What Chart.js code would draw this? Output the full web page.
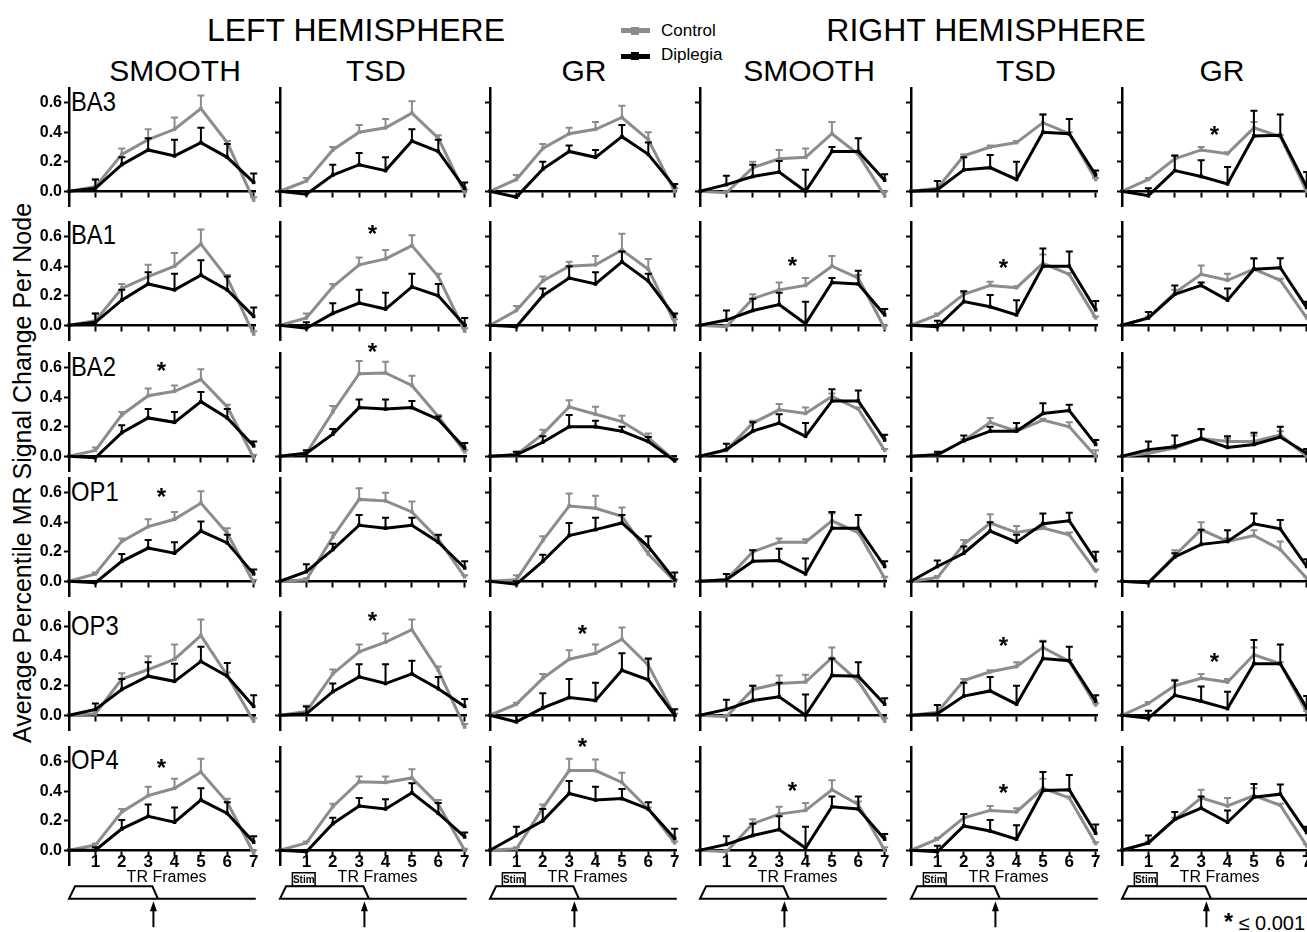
<!DOCTYPE html>
<html>
<head>
<meta charset="utf-8">
<script src="https://cdn.jsdelivr.net/npm/chart.js@4.4.1/dist/chart.umd.min.js"></script>
<style>
  body { margin: 0; background: #fff; width: 1307px; height: 932px; overflow: hidden; position: relative;
         font-family: "Liberation Sans", Arial, sans-serif; color: #000; }
  .t { position: absolute; white-space: nowrap; transform: translate(-50%, -50%); line-height: 1; }
  .l { position: absolute; white-space: nowrap; line-height: 1; transform-origin: left center; }
  .bar { position: absolute; }
  canvas { position: absolute; }
</style>
</head>
<body>
<div class="t" style="left:356px;top:30px;font-size:32px">LEFT HEMISPHERE</div>
<div class="t" style="left:986px;top:30px;font-size:32px">RIGHT HEMISPHERE</div>
<div id="titles"></div>
<div class="t" style="left:22px;top:473px;font-size:25px;transform:translate(-50%,-50%) rotate(-90deg)">Average Percentile MR Signal Change Per Node</div>

<!-- legend -->
<div class="bar" style="left:621px;top:28px;width:29px;height:5px;background:#8c8c8c"></div>
<div class="bar" style="left:631px;top:26.5px;width:8px;height:8px;background:#8c8c8c"></div>
<div class="l" style="left:661px;top:22px;font-size:17px">Control</div>
<div class="bar" style="left:621px;top:53.5px;width:29px;height:5px;background:#000"></div>
<div class="bar" style="left:631px;top:52px;width:8px;height:8px;background:#000"></div>
<div class="l" style="left:661px;top:46px;font-size:17px">Diplegia</div>

<div class="l" style="left:1224px;top:911px;font-size:20px"><b style="font-size:23px">*</b> &le; 0.001</div>

<script>
// ---------------- data ----------------
const frames = [0, 1, 2, 3, 4, 5, 6, 7];
const xTicks = [1, 2, 3, 4, 5, 6, 7];
const yTicks = [0, 0.2, 0.4, 0.6];
const conditions = ['SMOOTH', 'TSD', 'GR', 'SMOOTH', 'TSD', 'GR'];
const regions = ['BA3', 'BA1', 'BA2', 'OP1', 'OP3', 'OP4'];

// one row per column: L SMOOTH, L TSD, L GR, R SMOOTH, R TSD, R GR
const controlBA3 = [
  [0, 0.03, 0.25, 0.35, 0.42, 0.56, 0.33, -0.06],
  [0, 0.07, 0.28, 0.40, 0.43, 0.53, 0.36, -0.01],
  [0, 0.08, 0.29, 0.39, 0.42, 0.50, 0.35, 0.00],
  [0, -0.01, 0.16, 0.22, 0.23, 0.39, 0.25, -0.03],
  [0, 0.02, 0.24, 0.30, 0.33, 0.465, 0.39, 0.08],
  [0, 0.08, 0.22, 0.28, 0.255, 0.43, 0.37, 0.00]
];
const controlErrBA3 = [
  [0, 0.05, 0.04, 0.07, 0.08, 0.09, 0.01, 0.02],
  [0, 0.02, 0.02, 0.05, 0.06, 0.08, 0.02, 0.02],
  [0, 0.03, 0.03, 0.04, 0.05, 0.08, 0.05, 0.02],
  [0, 0.01, 0.04, 0.06, 0.06, 0.08, 0.02, 0.03],
  [0, 0.05, 0.01, 0.01, 0.01, 0.055, 0.01, 0.01],
  [0, 0.01, 0.025, 0.02, 0.01, 0.04, 0.01, 0.01]
];
const diplegiaBA3 = [
  [0, 0.02, 0.18, 0.28, 0.24, 0.33, 0.23, 0.06],
  [0, -0.02, 0.11, 0.18, 0.14, 0.34, 0.27, 0.02],
  [0, -0.04, 0.15, 0.27, 0.23, 0.37, 0.25, 0.03],
  [0, 0.045, 0.10, 0.13, 0.00, 0.27, 0.27, 0.075],
  [0, 0.01, 0.145, 0.16, 0.08, 0.40, 0.39, 0.11],
  [0, -0.03, 0.14, 0.10, 0.05, 0.375, 0.38, 0.03]
];
const diplegiaErrBA3 = [
  [0, 0.06, 0.05, 0.08, 0.11, 0.10, 0.09, 0.06],
  [0, 0.02, 0.07, 0.08, 0.09, 0.08, 0.08, 0.04],
  [0, 0.01, 0.05, 0.04, 0.05, 0.08, 0.08, 0.02],
  [0, 0.06, 0.08, 0.075, 0.145, 0.03, 0.09, 0.04],
  [0, 0.06, 0.085, 0.085, 0.12, 0.12, 0.10, 0.03],
  [0, 0.05, 0.10, 0.11, 0.115, 0.17, 0.14, 0.10]
];

const controlBA1 = [
  [0, 0.03, 0.25, 0.33, 0.40, 0.55, 0.32, -0.06],
  [0, 0.05, 0.26, 0.41, 0.45, 0.54, 0.33, -0.04],
  [0, 0.10, 0.30, 0.40, 0.41, 0.51, 0.38, 0.02],
  [0, -0.01, 0.18, 0.24, 0.27, 0.40, 0.32, -0.02],
  [0, 0.07, 0.21, 0.27, 0.255, 0.42, 0.345, 0.05],
  [0, 0.05, 0.22, 0.345, 0.305, 0.38, 0.305, 0.05]
];
const controlErrBA1 = [
  [0, 0.05, 0.03, 0.08, 0.09, 0.10, 0.02, 0.02],
  [0, 0.03, 0.02, 0.05, 0.06, 0.07, 0.02, 0.02],
  [0, 0.03, 0.03, 0.03, 0.06, 0.11, 0.07, 0.02],
  [0, 0.01, 0.03, 0.05, 0.05, 0.07, 0.02, 0.02],
  [0, 0.01, 0.01, 0.025, 0.01, 0.06, 0.01, 0.01],
  [0, 0.01, 0.02, 0.06, 0.045, 0.07, 0.01, 0.02]
];
const diplegiaBA1 = [
  [0, 0.02, 0.17, 0.28, 0.24, 0.34, 0.24, 0.06],
  [0, -0.02, 0.08, 0.15, 0.11, 0.26, 0.20, 0.00],
  [0, -0.01, 0.20, 0.32, 0.28, 0.43, 0.30, 0.06],
  [0, 0.035, 0.10, 0.14, 0.01, 0.29, 0.28, 0.07],
  [0, -0.01, 0.16, 0.125, 0.07, 0.40, 0.40, 0.105],
  [0, 0.05, 0.21, 0.27, 0.17, 0.38, 0.39, 0.12]
];
const diplegiaErrBA1 = [
  [0, 0.06, 0.07, 0.08, 0.11, 0.10, 0.09, 0.06],
  [0, 0.04, 0.07, 0.09, 0.11, 0.09, 0.08, 0.05],
  [0, 0.01, 0.05, 0.08, 0.08, 0.07, 0.05, 0.02],
  [0, 0.065, 0.08, 0.08, 0.15, 0.03, 0.09, 0.04],
  [0, 0.04, 0.07, 0.08, 0.10, 0.12, 0.10, 0.06],
  [0, 0.04, 0.06, 0.02, 0.08, 0.075, 0.065, 0.04]
];

const controlBA2 = [
  [0, 0.04, 0.28, 0.41, 0.44, 0.52, 0.335, -0.01],
  [0, 0.02, 0.30, 0.56, 0.565, 0.48, 0.27, 0.03],
  [0, 0.01, 0.15, 0.335, 0.285, 0.235, 0.125, -0.03],
  [0, 0.04, 0.225, 0.315, 0.29, 0.405, 0.32, 0.04],
  [0, 0.01, 0.105, 0.23, 0.17, 0.245, 0.20, 0.00],
  [0, 0.02, 0.055, 0.12, 0.10, 0.10, 0.145, 0.00]
];
const controlErrBA2 = [
  [0, 0.02, 0.02, 0.05, 0.04, 0.07, 0.015, 0.02],
  [0, 0.01, 0.04, 0.085, 0.075, 0.065, 0.01, 0.01],
  [0, 0.02, 0.03, 0.045, 0.05, 0.04, 0.03, 0.01],
  [0, 0.01, 0.015, 0.04, 0.04, 0.02, 0.01, 0.01],
  [0, 0.01, 0.01, 0.03, 0.02, 0.01, 0.03, 0.04],
  [0, 0.01, 0.02, 0.06, 0.02, 0.04, 0.025, 0.01]
];
const diplegiaBA2 = [
  [0, -0.01, 0.16, 0.26, 0.23, 0.37, 0.26, 0.07],
  [0, 0.02, 0.15, 0.33, 0.32, 0.33, 0.25, 0.055],
  [0, 0.01, 0.095, 0.20, 0.20, 0.17, 0.10, -0.03],
  [0, 0.045, 0.17, 0.225, 0.135, 0.375, 0.375, 0.11],
  [0, 0.01, 0.105, 0.17, 0.17, 0.29, 0.31, 0.08],
  [0, 0.045, 0.065, 0.12, 0.06, 0.08, 0.13, 0.02]
];
const diplegiaErrBA2 = [
  [0, 0.01, 0.05, 0.06, 0.07, 0.065, 0.06, 0.03],
  [0, 0.02, 0.035, 0.055, 0.065, 0.045, 0.02, 0.035],
  [0, 0.02, 0.04, 0.08, 0.04, 0.03, 0.03, 0.01],
  [0, 0.04, 0.06, 0.06, 0.09, 0.08, 0.07, 0.035],
  [0, 0.02, 0.035, 0.03, 0.055, 0.07, 0.04, 0.03],
  [0, 0.055, 0.075, 0.065, 0.075, 0.08, 0.07, 0.03]
];

const controlOP1 = [
  [0, 0.05, 0.27, 0.37, 0.42, 0.53, 0.325, -0.01],
  [0, 0.01, 0.30, 0.555, 0.545, 0.47, 0.285, 0.03],
  [0, 0.01, 0.275, 0.51, 0.495, 0.44, 0.185, 0.00],
  [0, 0.01, 0.20, 0.265, 0.265, 0.41, 0.33, 0.02],
  [0, 0.025, 0.25, 0.395, 0.33, 0.36, 0.315, 0.07],
  [0, -0.01, 0.175, 0.35, 0.27, 0.31, 0.215, 0.02]
];
const controlErrOP1 = [
  [0, 0.01, 0.02, 0.05, 0.05, 0.08, 0.035, 0.02],
  [0, 0.01, 0.03, 0.075, 0.055, 0.07, 0.025, 0.01],
  [0, 0.03, 0.03, 0.085, 0.085, 0.06, 0.02, 0.01],
  [0, 0.04, 0.01, 0.025, 0.02, 0.05, 0.02, 0.01],
  [0, 0.01, 0.03, 0.06, 0.045, 0.01, 0.015, 0.01],
  [0, 0.01, 0.035, 0.05, 0.02, 0.035, 0.055, 0.01]
];
const diplegiaOP1 = [
  [0, -0.01, 0.135, 0.225, 0.19, 0.34, 0.26, 0.05],
  [0, 0.065, 0.215, 0.38, 0.36, 0.38, 0.265, 0.09],
  [0, -0.02, 0.135, 0.31, 0.35, 0.395, 0.235, 0.01],
  [0, 0.01, 0.135, 0.14, 0.05, 0.36, 0.36, 0.10],
  [0, 0.10, 0.19, 0.34, 0.265, 0.39, 0.41, 0.14],
  [0, -0.01, 0.165, 0.25, 0.27, 0.39, 0.355, 0.10]
];
const diplegiaErrOP1 = [
  [0, 0.01, 0.05, 0.055, 0.075, 0.065, 0.055, 0.03],
  [0, 0.05, 0.04, 0.07, 0.07, 0.05, 0.05, 0.045],
  [0, 0.02, 0.045, 0.085, 0.08, 0.055, 0.07, 0.05],
  [0, 0.04, 0.075, 0.08, 0.105, 0.11, 0.09, 0.035],
  [0, 0.04, 0.045, 0.06, 0.05, 0.07, 0.055, 0.06],
  [0, 0.01, 0.025, 0.10, 0.075, 0.07, 0.06, 0.05]
];

const controlOP3 = [
  [0, 0.01, 0.245, 0.31, 0.38, 0.54, 0.27, -0.04],
  [0, 0.025, 0.28, 0.43, 0.495, 0.58, 0.305, -0.08],
  [0, 0.075, 0.25, 0.38, 0.42, 0.515, 0.34, 0.00],
  [0, -0.01, 0.175, 0.215, 0.225, 0.39, 0.23, -0.04],
  [0, 0.02, 0.235, 0.295, 0.33, 0.46, 0.365, 0.07],
  [0, 0.08, 0.20, 0.25, 0.225, 0.41, 0.35, 0.02]
];
const controlErrOP3 = [
  [0, 0.02, 0.04, 0.09, 0.10, 0.11, 0.02, 0.02],
  [0, 0.04, 0.03, 0.05, 0.06, 0.07, 0.025, 0.02],
  [0, 0.01, 0.03, 0.06, 0.06, 0.08, 0.04, 0.01],
  [0, 0.01, 0.025, 0.055, 0.05, 0.07, 0.02, 0.02],
  [0, 0.05, 0.01, 0.01, 0.03, 0.045, 0.01, 0.01],
  [0, 0.01, 0.04, 0.03, 0.02, 0.05, 0.01, 0.01]
];
const diplegiaOP3 = [
  [0, 0.04, 0.175, 0.265, 0.23, 0.365, 0.265, 0.06],
  [0, 0.01, 0.16, 0.26, 0.215, 0.28, 0.18, 0.06],
  [0, -0.045, 0.05, 0.12, 0.10, 0.305, 0.24, 0.00],
  [0, 0.04, 0.10, 0.125, 0.00, 0.27, 0.265, 0.075],
  [0, 0.01, 0.13, 0.165, 0.075, 0.385, 0.37, 0.095],
  [0, -0.02, 0.135, 0.095, 0.045, 0.35, 0.35, 0.05]
];
const diplegiaErrOP3 = [
  [0, 0.04, 0.07, 0.095, 0.12, 0.10, 0.09, 0.075],
  [0, 0.05, 0.055, 0.085, 0.13, 0.09, 0.08, 0.05],
  [0, 0.045, 0.10, 0.125, 0.12, 0.115, 0.145, 0.04],
  [0, 0.065, 0.10, 0.095, 0.14, 0.115, 0.095, 0.04],
  [0, 0.06, 0.09, 0.095, 0.125, 0.115, 0.095, 0.04],
  [0, 0.05, 0.10, 0.10, 0.115, 0.16, 0.13, 0.08]
];

const controlOP4 = [
  [0, 0.035, 0.26, 0.37, 0.42, 0.53, 0.325, -0.02],
  [0, 0.05, 0.295, 0.465, 0.46, 0.49, 0.31, 0.00],
  [0, 0.01, 0.285, 0.54, 0.54, 0.46, 0.28, 0.05],
  [0, -0.01, 0.18, 0.245, 0.27, 0.41, 0.31, 0.00],
  [0, 0.075, 0.22, 0.27, 0.26, 0.42, 0.355, 0.045],
  [0, 0.05, 0.21, 0.355, 0.30, 0.37, 0.305, 0.03]
];
const controlErrOP4 = [
  [0, 0.01, 0.02, 0.06, 0.065, 0.09, 0.025, 0.02],
  [0, 0.01, 0.02, 0.035, 0.04, 0.06, 0.03, 0.01],
  [0, 0.01, 0.025, 0.08, 0.075, 0.065, 0.01, 0.01],
  [0, 0.01, 0.03, 0.05, 0.05, 0.065, 0.02, 0.02],
  [0, 0.01, 0.025, 0.03, 0.025, 0.065, 0.01, 0.01],
  [0, 0.01, 0.01, 0.055, 0.055, 0.05, 0.01, 0.01]
];
const diplegiaOP4 = [
  [0, 0.00, 0.145, 0.23, 0.19, 0.34, 0.25, 0.055],
  [0, -0.01, 0.18, 0.30, 0.28, 0.39, 0.25, 0.09],
  [0, 0.10, 0.20, 0.385, 0.34, 0.35, 0.28, 0.08],
  [0, 0.04, 0.10, 0.14, 0.015, 0.295, 0.28, 0.075],
  [0, -0.01, 0.165, 0.13, 0.075, 0.405, 0.41, 0.115],
  [0, 0.05, 0.21, 0.285, 0.19, 0.36, 0.38, 0.12]
];
const diplegiaErrOP4 = [
  [0, 0.02, 0.06, 0.08, 0.10, 0.08, 0.075, 0.04],
  [0, 0.01, 0.04, 0.055, 0.065, 0.065, 0.07, 0.03],
  [0, 0.06, 0.08, 0.085, 0.09, 0.065, 0.045, 0.065],
  [0, 0.055, 0.08, 0.09, 0.145, 0.07, 0.085, 0.035],
  [0, 0.04, 0.08, 0.075, 0.095, 0.125, 0.10, 0.06],
  [0, 0.05, 0.05, 0.08, 0.08, 0.09, 0.065, 0.04]
];

// significance marks: [region, column, frame, value]
const stars = [
  ['BA3', 5, 3.5, 0.42],
  ['BA1', 1, 3.5, 0.66], ['BA1', 3, 3.5, 0.44], ['BA1', 4, 3.5, 0.43],
  ['BA2', 0, 3.5, 0.62], ['BA2', 1, 3.5, 0.745],
  ['OP1', 0, 3.5, 0.61],
  ['OP3', 1, 3.5, 0.68], ['OP3', 2, 3.5, 0.59], ['OP3', 4, 3.5, 0.51], ['OP3', 5, 3.5, 0.40],
  ['OP4', 0, 3.5, 0.595], ['OP4', 2, 3.5, 0.74], ['OP4', 3, 3.5, 0.445], ['OP4', 4, 3.5, 0.43]
];

const series = {
  BA3: [controlBA3, controlErrBA3, diplegiaBA3, diplegiaErrBA3],
  BA1: [controlBA1, controlErrBA1, diplegiaBA1, diplegiaErrBA1],
  BA2: [controlBA2, controlErrBA2, diplegiaBA2, diplegiaErrBA2],
  OP1: [controlOP1, controlErrOP1, diplegiaOP1, diplegiaErrOP1],
  OP3: [controlOP3, controlErrOP3, diplegiaOP3, diplegiaErrOP3],
  OP4: [controlOP4, controlErrOP4, diplegiaOP4, diplegiaErrOP4]
};

// ---------------- layout ----------------
const colX = [69, 280, 490, 700, 911, 1122];      // pixel of frame 0
const rowY0 = [191.5, 325, 456.5, 581.5, 715.5, 850]; // pixel of value 0
const titleX = [175, 376, 584, 809, 1026, 1222];
const stimCols = [1, 2, 4, 5];
const GRAY = '#8c8c8c';
const FONT = '"Liberation Sans", Arial, sans-serif';
const yW = 50, areaW = 186, padRight = 14, padTop = 40, areaH = 118;

// titles and region labels
const titles = document.getElementById('titles');
conditions.forEach((c, i) => {
  const d = document.createElement('div');
  d.className = 't';
  d.style.cssText = `left:${titleX[i]}px;top:71px;font-size:30px`;
  d.textContent = c;
  titles.appendChild(d);
});
regions.forEach((r, i) => {
  const d = document.createElement('div');
  d.className = 'l';
  d.style.cssText = `left:71px;top:${rowY0[i] - 104}px;font-size:28px;transform:scaleX(0.85)`;
  d.textContent = r;
  titles.appendChild(d);
});

// error bars drawn right after each line
const errorBars = {
  id: 'errorBars',
  afterDatasetDraw(chart, args) {
    const ds = chart.data.datasets[args.index];
    const y = chart.scales.y;
    const ctx = chart.ctx;
    ctx.save();
    ctx.strokeStyle = ds.borderColor;
    ctx.lineWidth = 2;
    args.meta.data.forEach((pt, i) => {
      const e = ds.errors[i];
      if (!e) return;
      const top = y.getPixelForValue(ds.data[i].y + e);
      ctx.beginPath();
      ctx.moveTo(pt.x, pt.y);
      ctx.lineTo(pt.x, top);
      ctx.moveTo(pt.x - 3.5, top);
      ctx.lineTo(pt.x + 3.5, top);
      ctx.stroke();
    });
    ctx.restore();
  }
};

// asterisks, axis caption and stimulus diagram
const extras = {
  id: 'extras',
  afterDraw(chart, args, opts) {
    const ctx = chart.ctx, xs = chart.scales.x, ys = chart.scales.y;
    const px = v => xs.getPixelForValue(v);
    ctx.save();
    ctx.fillStyle = '#000';
    ctx.font = 'bold 24px ' + FONT;
    ctx.textAlign = 'center';
    ctx.textBaseline = 'alphabetic';
    opts.stars.forEach(s => {
      ctx.fillText('*', px(s[0]), ys.getPixelForValue(s[1]) + 14);
    });
    if (opts.stim) {
      const y0 = ys.getPixelForValue(0);
      ctx.font = '16px ' + FONT;
      ctx.textBaseline = 'middle';
      ctx.fillText('TR Frames', px(3.7), y0 + 27);

      const top = y0 + 36, bot = y0 + 48.5;
      ctx.strokeStyle = '#000';
      ctx.lineWidth = 2;
      ctx.beginPath();
      ctx.moveTo(px(7.08), bot);
      ctx.lineTo(px(0), bot);
      ctx.lineTo(px(0.23), top);
      ctx.lineTo(px(3.16), top);
      ctx.lineTo(px(3.37), bot);
      ctx.stroke();
      const ax = px(3.2);
      ctx.beginPath();
      ctx.moveTo(ax, y0 + 77);
      ctx.lineTo(ax, y0 + 58);
      ctx.stroke();
      ctx.beginPath();
      ctx.moveTo(ax, y0 + 51);
      ctx.lineTo(ax - 3.5, y0 + 61);
      ctx.lineTo(ax + 3.5, y0 + 61);
      ctx.closePath();
      ctx.fill();
      if (opts.box) {
        const b0 = px(0.47), b1 = px(1.33);
        ctx.lineWidth = 1.5;
        ctx.strokeRect(b0, y0 + 22.5, b1 - b0, top - y0 - 22.5);
        ctx.font = 'bold 10px ' + FONT;
        ctx.fillText('Stim', (b0 + b1) / 2, y0 + 30);
      }
    }
    ctx.restore();
  }
};

function makePanel(r, c) {
  const region = regions[r];
  const [ctrl, ctrlErr, dipl, diplErr] = series[region];
  const last = r === regions.length - 1;
  const padBottom = last ? 90 : 12;
  const canvas = document.createElement('canvas');
  canvas.width = yW + areaW + padRight;
  canvas.height = padTop + areaH + padBottom;
  canvas.style.left = (colX[c] - yW) + 'px';
  canvas.style.top = Math.round(rowY0[r] - 0.7 / 0.8 * areaH - padTop) + 'px';
  document.body.appendChild(canvas);

  const axisFont = { family: FONT, weight: 'bold' };
  new Chart(canvas, {
    type: 'line',
    data: {
      datasets: [
        { label: 'Diplegia', data: frames.map((f, i) => ({ x: f, y: dipl[c][i] })), errors: diplErr[c],
          borderColor: '#000', backgroundColor: '#000', order: 0 },
        { label: 'Control', data: frames.map((f, i) => ({ x: f, y: ctrl[c][i] })), errors: ctrlErr[c],
          borderColor: GRAY, backgroundColor: GRAY, order: 1 }
      ]
    },
    options: {
      responsive: false,
      animation: false,
      events: [],
      clip: false,
      layout: { padding: { left: 0, right: padRight, top: padTop, bottom: padBottom } },
      elements: {
        line: { borderWidth: 3, tension: 0 },
        point: { radius: 2.5, pointStyle: 'rect', borderWidth: 0 }
      },
      plugins: {
        legend: { display: false },
        tooltip: { enabled: false },
        extras: {
          stars: stars.filter(s => s[0] === region && s[1] === c).map(s => [s[2], s[3]]),
          stim: last,
          box: stimCols.includes(c)
        }
      },
      scales: {
        x: {
          type: 'linear', min: 0, max: 7.05, position: { y: 0 },
          afterBuildTicks: s => { s.ticks = xTicks.map(v => ({ value: v })); },
          afterFit: s => { s.paddingLeft = 0; s.paddingRight = 0; },
          grid: { drawOnChartArea: false, tickLength: 5, tickWidth: 2, color: '#000' },
          border: { color: '#000', width: 2.5 },
          ticks: { display: last, color: '#000', autoSkip: false, maxRotation: 0, padding: -3,
                   font: { ...axisFont, size: 17 } }
        },
        y: {
          type: 'linear', min: -0.1, max: 0.7, position: 'left',
          afterBuildTicks: s => { s.ticks = yTicks.map(v => ({ value: v })); },
          afterFit: s => { s.width = yW; s.paddingTop = 0; s.paddingBottom = 0; },
          grid: { drawOnChartArea: false, tickLength: 5, tickWidth: 2, color: '#000' },
          border: { color: '#000', width: 2.5 },
          ticks: { display: c === 0, color: '#000', padding: 2, autoSkip: false,
                   callback: v => v.toFixed(1), font: { ...axisFont, size: 16 } }
        }
      }
    },
    plugins: [errorBars, extras]
  });
}

regions.forEach((r, ri) => conditions.forEach((c, ci) => makePanel(ri, ci)));
</script>
</body>
</html>
